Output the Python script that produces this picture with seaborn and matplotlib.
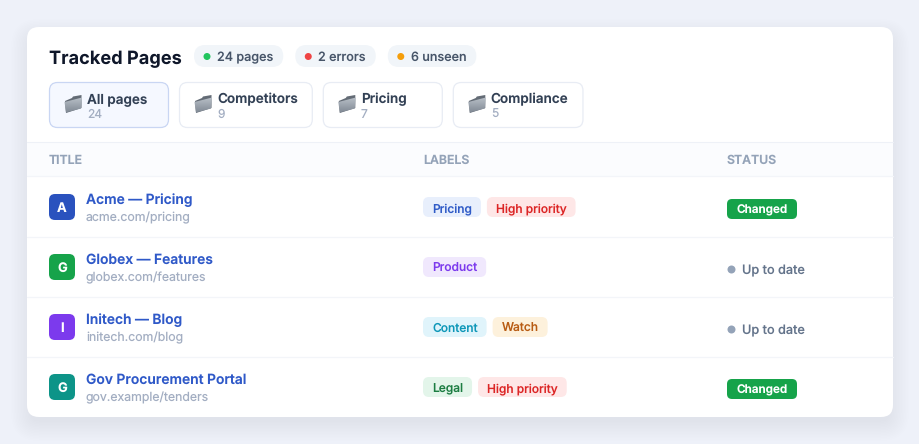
# -*- coding: utf-8 -*-
import matplotlib
matplotlib.use("Agg")
import matplotlib.pyplot as plt
import numpy as np
import pandas as pd
import seaborn as sns
from matplotlib.patches import FancyBboxPatch, Polygon, Rectangle

# data
heading = "Tracked Pages"
summary_labels = ["24 pages", "2 errors", "6 unseen"]
summary_colors = ["#22c55e", "#ef4444", "#f59e0b"]

tab_names = ["All pages", "Competitors", "Pricing", "Compliance"]
tab_counts = ["24", "9", "7", "5"]

columns = ["TITLE", "LABELS", "STATUS"]

page_titles = ["Acme — Pricing", "Globex — Features", "Initech — Blog", "Gov Procurement Portal"]
page_urls = ["acme.com/pricing", "globex.com/features", "initech.com/blog", "gov.example/tenders"]
page_initials = ["A", "G", "I", "G"]
page_colors = ["#2a52be", "#16a34a", "#7c3aed", "#0d9488"]
page_labels = [["Pricing", "High priority"], ["Product"], ["Content", "Watch"], ["Legal", "High priority"]]
page_status = ["Changed", "Up to date", "Up to date", "Changed"]

label_styles = {
    "Pricing": ("#e8effc", "#2f5bc7"),
    "High priority": ("#fee7e7", "#dc2626"),
    "Product": ("#f0e8fd", "#7c3aed"),
    "Content": ("#e0f4fb", "#0e97b8"),
    "Watch": ("#fdf1dc", "#b85c14"),
    "Legal": ("#e3f5ea", "#1c7d42"),
}

sns.set_theme(style="white")
plt.rcParams["font.family"] = ["Inter", "DejaVu Sans"]
plt.rcParams["text.hinting"] = "no_hinting"

BG = "#eef1f9"


def px(size):
    # css pixels to points at dpi 100
    return size * 0.72


def rbox(ax, x, y, w, h, r, fc, ec="none", lw=0.0, z=2, alpha=None):
    box = FancyBboxPatch((x + r, y + r), w - 2 * r, h - 2 * r,
                         boxstyle=f"round,pad={r},rounding_size={r}",
                         fc=fc, ec=ec, lw=lw, zorder=z, alpha=alpha)
    ax.add_patch(box)
    return box


def label(ax, x, y, s, size, color, weight="normal", **kw):
    return ax.text(x, y, s, fontsize=px(size), color=color, fontweight=weight,
                   ha=kw.pop("ha", "left"), va=kw.pop("va", "baseline"), zorder=5, **kw)


def text_width(fig, artist):
    # width in pixels, axes are 1:1 with the pixels
    return artist.get_window_extent(fig.canvas.get_renderer()).width


def folder(ax, x, y):
    # the folder emoji, 18px wide
    ax.add_patch(Polygon([(x + 1, y + 6), (x + 8, y + 3), (x + 9, y + 1.5), (x + 17.5, y),
                          (x + 17.5, y + 13), (x + 2, y + 18)], closed=True,
                         fc="#636b75", ec="none", zorder=3))
    front = Polygon([(x + 0.5, y + 7), (x + 18, y + 2.5), (x + 17, y + 13.5), (x + 2, y + 17.5)],
                    closed=True, fc="none", ec="none", zorder=4)
    ax.add_patch(front)
    grad = np.linspace(0, 1, 32).reshape(-1, 1)
    im = ax.imshow(grad, extent=(x, x + 18.5, y + 18, y + 2), aspect="auto", zorder=4,
                   cmap=matplotlib.colors.LinearSegmentedColormap.from_list("f", ["#b9c0c8", "#7f8893"]))
    im.set_clip_path(front)


fig = plt.figure(figsize=(9.2, 4.44), dpi=100, facecolor=BG)
ax = fig.add_axes([0, 0, 1, 1])
fig.canvas.draw()

# card and its soft shadow
for i in range(14):
    grow = 16 - i * 1.5
    rbox(ax, 27 - grow, 27 + 8 - grow, 866 + 2 * grow, 390 + 2 * grow, 12 + grow,
         "#3c4a78", z=1, alpha=0.004)
rbox(ax, 27, 27, 866, 390, 12, "white", z=1.5)

label(ax, 49, 64, heading, 18.2, "#0f172a", "bold")

# summary pills
dot_x, dot_y = [], []
left = 194
for text in summary_labels:
    t = label(ax, left + 23, 61, text, 12.6, "#475569", "medium")
    w = 23 + text_width(fig, t) + 10
    rbox(ax, left, 45, w, 22, 11, "#f1f5f9")
    dot_x.append(left + 13)
    dot_y.append(56.5)
    left += w + 12

sns.scatterplot(x=dot_x, y=dot_y, hue=summary_labels, palette=summary_colors, s=px(7) ** 2,
                linewidth=0, legend=False, ax=ax, zorder=4)

# tabs
left = 49
for i, (name, count) in enumerate(zip(tab_names, tab_counts)):
    t = label(ax, left + 38, 103, name, 13.5, "#334155", "semibold")
    label(ax, left + 38, 118, count, 12, "#a3aec2")
    w = max(120, 38 + text_width(fig, t) + 15)
    active = i == 0
    rbox(ax, left + 0.5, 82.5, w - 1, 45, 8, "#f5f8ff" if active else "white",
         ec="#c9d6f3" if active else "#e8ecf4", lw=0.9)
    folder(ax, left + 15, 95)
    left += w + 10

# table head
ax.add_patch(Rectangle((27, 143), 866, 34, fc="#fbfcfe", ec="none", zorder=2))
ax.plot([27, 893], [142.5, 142.5], color="#eef1f7", lw=0.8, zorder=3)
for name, x in zip(columns, [49, 423, 727]):
    label(ax, x, 164, name, 12.3, "#94a3b8", "semibold")

# rows
status_x, status_y = [], []
for i, title in enumerate(page_titles):
    top = 177 + i * 60
    ax.plot([27, 893], [top - 0.5, top - 0.5], color="#f3f5f9", lw=0.9, zorder=3)
    rbox(ax, 49, top + 17, 26, 26, 6, page_colors[i])
    label(ax, 62, top + 35, page_initials[i], 13, "white", "bold", ha="center")
    label(ax, 86, top + 27, title, 13.85, "#2f59c8", "semibold")
    label(ax, 86, top + 44, page_urls[i], 12.3, "#a3aec2")

    left = 423
    for name in page_labels[i]:
        fc, tc = label_styles[name]
        t = label(ax, left + 9, top + 35, name, 12, tc, "medium")
        w = text_width(fig, t) + 18
        rbox(ax, left, top + 20, w, 20, 6, fc)
        left += w + 6

    if page_status[i] == "Changed":
        rbox(ax, 727, top + 22, 70, 20, 5, "#16a34a")
        label(ax, 737, top + 36, page_status[i], 11.7, "white", "semibold")
    else:
        status_x.append(731)
        status_y.append(top + 32)
        label(ax, 742, top + 37, page_status[i], 12.7, "#64748b", "medium")

dots = pd.DataFrame({"x": status_x, "y": status_y})
sns.scatterplot(data=dots, x="x", y="y", color="#94a3b8", s=px(8) ** 2, linewidth=0,
                legend=False, ax=ax, zorder=4)

ax.set_xlim(0, 920)
ax.set_ylim(444, 0)
ax.axis("off")
fig.savefig("out.png", dpi=100, facecolor=BG)
